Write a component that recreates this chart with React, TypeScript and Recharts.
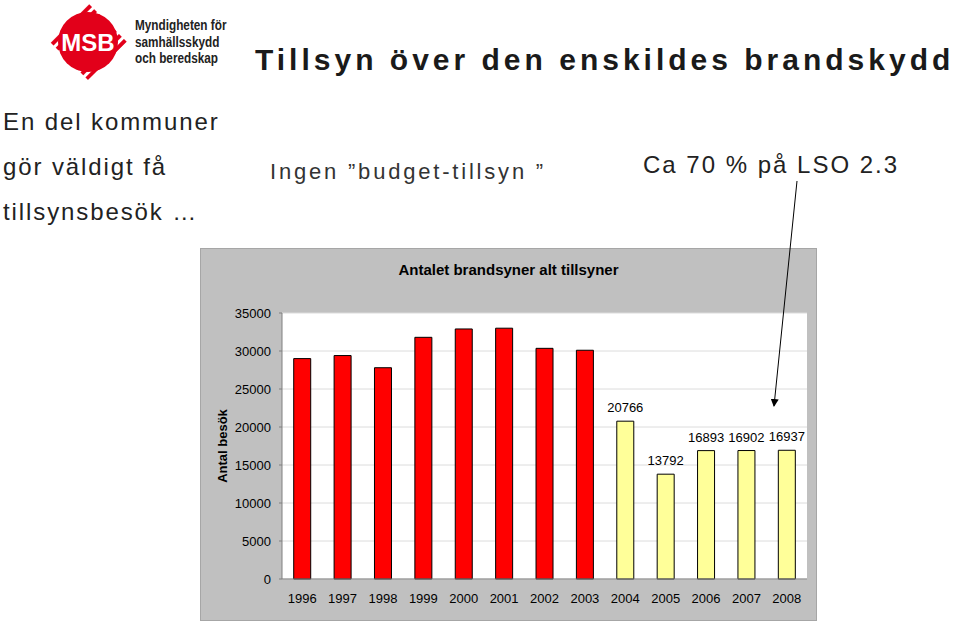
import { BarChart, Bar, XAxis, YAxis, CartesianGrid, Cell, LabelList } from 'recharts';

const years = ['1996', '1997', '1998', '1999', '2000', '2001', '2002', '2003', '2004', '2005', '2006', '2007', '2008'];
const visits = [29000, 29400, 27800, 31800, 32900, 33000, 30350, 30100, 20766, 13792, 16893, 16902, 16937];
// only the later years carry a value label
const shownLabels = [null, null, null, null, null, null, null, null, 20766, 13792, 16893, 16902, 16937];
const yTicks = [0, 5000, 10000, 15000, 20000, 25000, 30000, 35000];

const chartData = years.map((year, i) => ({ year, value: visits[i], label: shownLabels[i] }));

const FONT = '"Liberation Sans", Arial, sans-serif';

const Logo = () => (
  <svg width={90} height={84} style={{ position: 'absolute', left: 44, top: 0 }}>
    <defs>
      <pattern id="stripes" width={7} height={7} patternUnits="userSpaceOnUse" patternTransform="rotate(45)">
        <rect width={7} height={7} fill="#fff" />
        <rect width={4} height={7} fill="#e2001a" />
      </pattern>
    </defs>
    <polygon points="44,3 83,42 44,80 6,42" fill="url(#stripes)" />
    <circle cx={44} cy={42} r={30} fill="#e2001a" />
    <text x={44} y={51} textAnchor="middle" fill="#fff" fontFamily={FONT} fontWeight="bold" fontSize={24}>
      MSB
    </text>
  </svg>
);

export default function App() {
  return (
    <div style={{ position: 'absolute', left: 0, top: 0, width: 960, height: 623, background: '#fff', fontFamily: FONT, overflow: 'hidden' }}>
      <Logo />
      <div style={{ position: 'absolute', left: 135, top: 17, fontSize: 14, fontWeight: 'bold', lineHeight: '16.5px', color: '#222', whiteSpace: 'nowrap', transform: 'scaleX(0.84)', transformOrigin: 'left top' }}>
        Myndigheten för
        <br />
        samhällsskydd
        <br />
        och beredskap
      </div>
      <div style={{ position: 'absolute', left: 255, top: 42, fontSize: 30, fontWeight: 'bold', letterSpacing: 4, color: '#1a1a1a', whiteSpace: 'nowrap', lineHeight: '36px' }}>
        Tillsyn över den enskildes brandskydd
      </div>
      <div style={{ position: 'absolute', left: 3, top: 99, fontSize: 24, letterSpacing: 1.9, color: '#222', lineHeight: '45px', whiteSpace: 'nowrap' }}>
        En del kommuner
        <br />
        gör väldigt få
        <br />
        tillsynsbesök …
      </div>
      <div style={{ position: 'absolute', left: 270, top: 157, fontSize: 22, letterSpacing: 2.8, color: '#333', whiteSpace: 'nowrap', lineHeight: '30px' }}>
        Ingen ”budget-tillsyn ”
      </div>
      <div style={{ position: 'absolute', left: 643, top: 150, fontSize: 24, letterSpacing: 2, color: '#222', whiteSpace: 'nowrap', lineHeight: '30px' }}>
        Ca 70 % på LSO 2.3
      </div>

      <div style={{ position: 'absolute', left: 200, top: 248, width: 617, height: 373, background: '#c0c0c0', boxShadow: 'inset 0 0 0 1px #a6a6a6' }}>
        <div style={{ position: 'absolute', left: 0, top: 13, width: 617, textAlign: 'center', fontSize: 15, fontWeight: 'bold', lineHeight: '18px', color: '#000' }}>
          Antalet brandsyner alt tillsyner
        </div>
        <BarChart
          width={617}
          height={373}
          data={chartData}
          margin={{ top: 65, right: 10, bottom: 12, left: 0 }}
          barCategoryGap="29%"
          style={{ position: 'absolute', left: 0, top: 0, fontFamily: FONT }}
        >
          <CartesianGrid vertical={false} fill="#fff" stroke="#dcdcdc" />
          <XAxis
            dataKey="year"
            tick={{ fontSize: 13, fill: '#000' }}
            stroke="#808080"
            tickLine={false}
            tickSize={4}
            tickMargin={11}
            interval={0}
          />
          <YAxis
            width={82}
            domain={[0, 35000]}
            ticks={yTicks}
            tick={{ fontSize: 13, fill: '#000' }}
            stroke="#808080"
            tickSize={3}
            tickMargin={8}
            label={{ value: 'Antal besök', angle: -90, position: 'insideLeft', offset: 22, style: { textAnchor: 'middle', fontSize: 13, fontWeight: 'bold', fill: '#000' } }}
          />
          <Bar dataKey="value" stroke="#000" strokeWidth={1} isAnimationActive={false}>
            {chartData.map((entry, i) => (
              <Cell key={entry.year} fill={i < 8 ? '#ff0000' : '#ffff99'} />
            ))}
            <LabelList dataKey="label" position="top" offset={9} fontSize={13} fill="#000" />
          </Bar>
        </BarChart>
      </div>

      <svg width={960} height={623} style={{ position: 'absolute', left: 0, top: 0, pointerEvents: 'none' }}>
        <defs>
          <marker id="arrow" markerWidth={8} markerHeight={8} refX={7} refY={4} orient="auto" markerUnits="userSpaceOnUse">
            <path d="M0,0 L8,4 L0,8 z" fill="#000" />
          </marker>
        </defs>
        <line x1={797} y1={181} x2={774} y2={406} stroke="#000" strokeWidth={1} markerEnd="url(#arrow)" />
      </svg>
    </div>
  );
}
